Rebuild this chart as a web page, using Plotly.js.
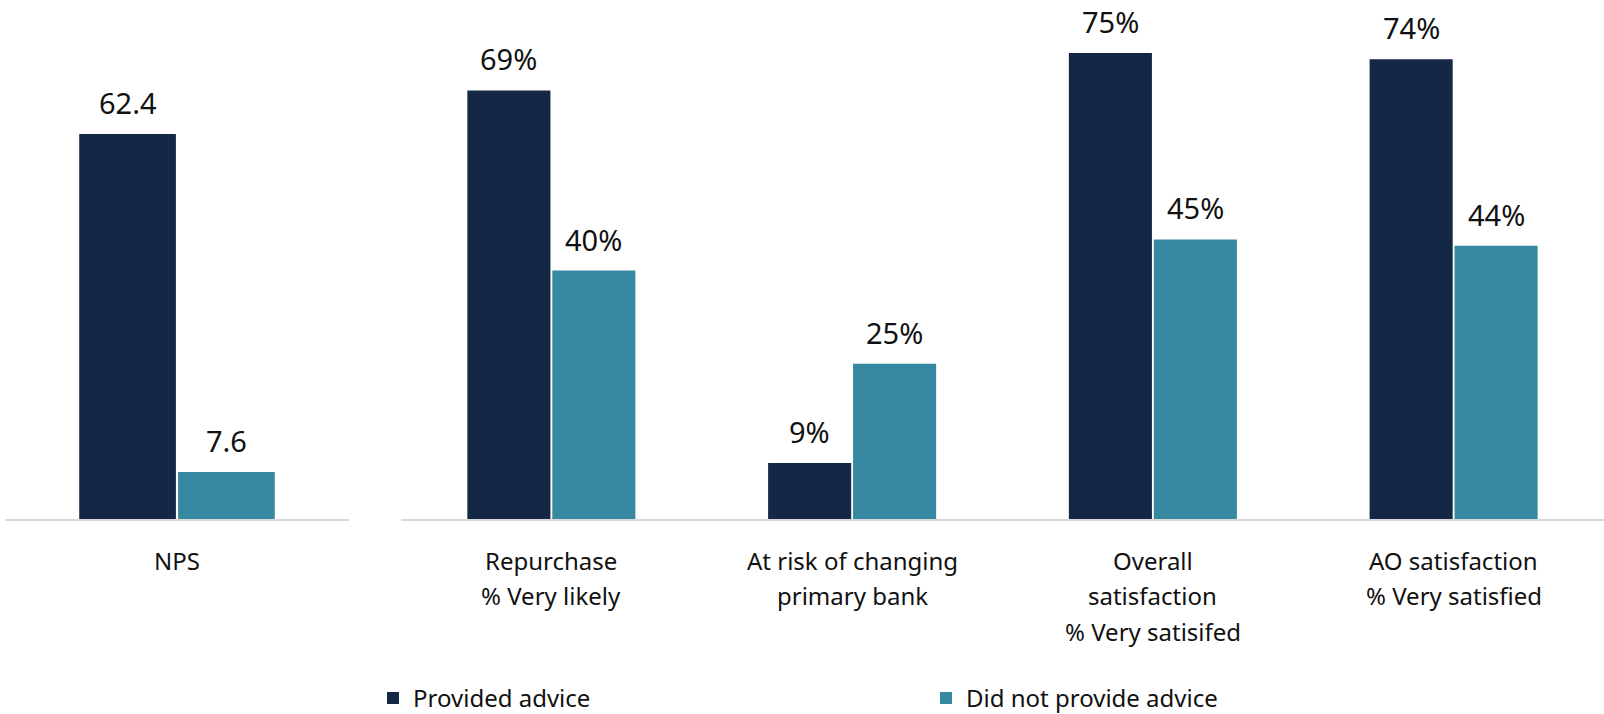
<!DOCTYPE html>
<html>
<head>
<meta charset="utf-8">
<script src="https://cdn.plot.ly/plotly-3.0.1.min.js"></script>
<style>
  html, body { margin: 0; padding: 0; background: #ffffff; }
  #chart { width: 1604px; height: 714px; }
</style>
</head>
<body>
<div id="chart"></div>
<script>
// ---- Data ----
const leftCategories = ['NPS'];
const leftCategoryLines = [['NPS']];
const rightCategories = ['Repurchase', 'At risk', 'Overall satisfaction', 'AO satisfaction'];
const rightCategoryLines = [
  ['Repurchase', '% Very likely'],
  ['At risk of changing', 'primary bank'],
  ['Overall', 'satisfaction', '% Very satisifed'],
  ['AO satisfaction', '% Very satisfied']
];
const seriesNames = ['Provided advice', 'Did not provide advice'];
const providedLeft = [62.4];
const notProvidedLeft = [7.6];
const providedRight = [69, 9, 75, 74];
const notProvidedRight = [40, 25, 45, 44];
const providedLeftLabels = ['62.4'];
const notProvidedLeftLabels = ['7.6'];
const providedRightLabels = ['69%', '9%', '75%', '74%'];
const notProvidedRightLabels = ['40%', '25%', '45%', '44%'];

// ---- Style ----
const NAVY = '#142846';
const TEAL = '#3689A0';
const FONT = 'Noto Sans, Open Sans, sans-serif';
const TEXT = '#111111';

const traces = [
  { type: 'bar', name: seriesNames[0], x: leftCategories, y: providedLeft, xaxis: 'x', yaxis: 'y',
    marker: { color: NAVY }, legendgroup: 'a', hoverinfo: 'skip' },
  { type: 'bar', name: seriesNames[1], x: leftCategories, y: notProvidedLeft, xaxis: 'x', yaxis: 'y',
    marker: { color: TEAL }, legendgroup: 'b', hoverinfo: 'skip' },
  { type: 'bar', name: seriesNames[0], x: rightCategories, y: providedRight, xaxis: 'x2', yaxis: 'y2',
    marker: { color: NAVY }, legendgroup: 'a', showlegend: false, hoverinfo: 'skip' },
  { type: 'bar', name: seriesNames[1], x: rightCategories, y: notProvidedRight, xaxis: 'x2', yaxis: 'y2',
    marker: { color: TEAL }, legendgroup: 'b', showlegend: false, hoverinfo: 'skip' }
];

const annotations = [];
function addValueLabels(cats, vals, labels, xref, yref, shift) {
  cats.forEach((c, i) => {
    annotations.push({
      x: c, y: vals[i], xref: xref, yref: yref, text: labels[i],
      showarrow: false, yanchor: 'bottom', xanchor: 'center', xshift: shift, yshift: 10,
      font: { family: FONT, size: 29, color: TEXT }
    });
  });
}
addValueLabels(leftCategories, providedLeft, providedLeftLabels, 'x', 'y', -49.5);
addValueLabels(leftCategories, notProvidedLeft, notProvidedLeftLabels, 'x', 'y', 49.5);
addValueLabels(rightCategories, providedRight, providedRightLabels, 'x2', 'y2', -42.5);
addValueLabels(rightCategories, notProvidedRight, notProvidedRightLabels, 'x2', 'y2', 42.5);

function addCategoryLabels(cats, lines, xref, yref) {
  cats.forEach((c, i) => {
    lines[i].forEach((line, j) => {
      annotations.push({
        x: c, y: 0, xref: xref, yref: yref, text: line,
        showarrow: false, yanchor: 'middle', xanchor: 'center', yshift: -(41 + 35.5 * j),
        font: { family: FONT, size: 24, color: TEXT }
      });
    });
  });
}
addCategoryLabels(leftCategories, leftCategoryLines, 'x', 'y');
addCategoryLabels(rightCategories, rightCategoryLines, 'x2', 'y2');

const axisCommon = {
  showgrid: false, zeroline: false, showticklabels: false, ticks: '',
  showline: true, linecolor: '#d9d9d9', linewidth: 1.5, fixedrange: true
};

const layout = {
  width: 1604, height: 714,
  margin: { l: 0, r: 0, t: 0, b: 195, pad: 0 },
  paper_bgcolor: '#ffffff', plot_bgcolor: '#ffffff',
  font: { family: FONT, color: TEXT },
  barmode: 'group', bargap: 0.435, bargroupgap: 0.022,
  showlegend: true,
  legend: {
    orientation: 'h', x: 373 / 1604, xanchor: 'left', yref: 'container', y: 0.022, yanchor: 'middle',
    entrywidth: 508, entrywidthmode: 'pixels', traceorder: 'normal',
    font: { family: FONT, size: 24, color: TEXT }, bgcolor: 'rgba(0,0,0,0)'
  },
  xaxis: Object.assign({}, axisCommon, { domain: [5 / 1604, 349 / 1604], range: [-0.4915, 0.4915] }),
  yaxis: { visible: false, range: [0, 84.1], fixedrange: true },
  xaxis2: Object.assign({}, axisCommon, { domain: [401 / 1604, 1], anchor: 'y2' }),
  yaxis2: { visible: false, range: [0, 83.55], anchor: 'x2', fixedrange: true },
  annotations: annotations
};

Plotly.newPlot('chart', traces, layout, { displayModeBar: false, staticPlot: true });
</script>
</body>
</html>
